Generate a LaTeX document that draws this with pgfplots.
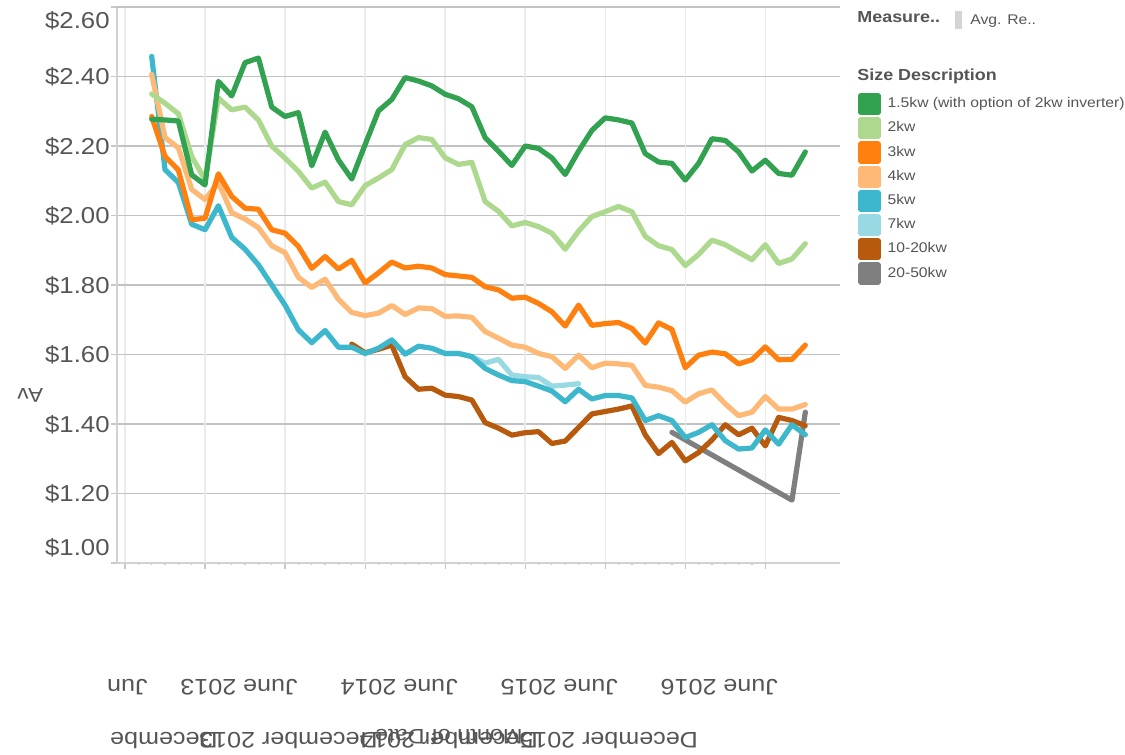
\documentclass[border=0pt]{standalone}
\usepackage{fontspec}
\setmainfont{Liberation Sans}[FakeStretch=1.12]
\usepackage{pgfplots}
\pgfplotsset{compat=1.18}
\definecolor{cA}{HTML}{32A251}
\definecolor{cB}{HTML}{ACD98D}
\definecolor{cC}{HTML}{FF7F0F}
\definecolor{cD}{HTML}{FFB977}
\definecolor{cE}{HTML}{3CB7CC}
\definecolor{cF}{HTML}{98D9E4}
\definecolor{cG}{HTML}{B85A0D}
\definecolor{cH}{HTML}{7F7F7F}
\definecolor{txt}{HTML}{555555}
\newcommand\ylab[2]{\raisebox{#1}[0pt][0pt]{#2}}
\begin{document}
\begin{tikzpicture}
\path[use as bounding box] (0,0) rectangle (562.5pt,-377.5pt);
\begin{axis}[
  at={(58.5pt,-281.5pt)}, anchor=south west,
  scale only axis, width=361.5pt, height=278pt,
  xmin=-0.6, xmax=53.6, ymin=1.0, ymax=2.6,
  axis lines*=left,
  axis line style={color=black!18, line width=0.8pt},
  tick align=outside,
  major tick length=3pt, minor tick length=1.2pt,
  tick style={color=black!22, line width=0.6pt},
  xtick={0,12,24,36,48},
  xticklabels={\hspace*{-5pt}Jun,June 2013,June 2014,June 2015,June 2016},
  minor x tick num=11,
  extra x ticks={6,18,30,42},
  extra x tick labels={Decembe,December 2013,December 2014,December 2015},
  extra x tick style={grid=major, xticklabel style={yshift=26.5pt}},
  xticklabel style={font=\fontsize{11.2pt}{13pt}\selectfont, text=txt, rotate=180, anchor=west, inner sep=0pt, xshift=-6.5pt, yshift=59pt},
  ytick={1.0,1.2,1.4,1.6,1.8,2.0,2.2,2.4},
  yticklabels={\ylab{3.9pt}{\$1.00},\ylab{-4.1pt}{\$1.20},\ylab{-4.1pt}{\$1.40},\ylab{-4.1pt}{\$1.60},\ylab{-4.1pt}{\$1.80},\ylab{-4.1pt}{\$2.00},\ylab{-4.1pt}{\$2.20},\ylab{-4.1pt}{\$2.40}},
  extra y ticks={2.6},
  extra y tick labels={\ylab{-10.6pt}{\$2.60}},
  extra y tick style={major grid style={color=black!8, line width=0.7pt}},
  yticklabel style={font=\fontsize{11.5pt}{13pt}\selectfont, text=txt, anchor=east, inner sep=0pt, xshift=-0.5pt},
  xmajorgrids, ymajorgrids,
  x grid style={color=black!8, line width=0.7pt},
  y grid style={color=black!24, line width=0.8pt},
  xlabel={Month of Date},
  xlabel style={at={(axis description cs:0.459,-0.313)}, rotate=180, anchor=center, font=\fontsize{10.5pt}{12pt}\selectfont, text=txt},
  ylabel={Av},
  ylabel style={at={(axis description cs:-0.120,0.302)}, rotate=90, anchor=center, font=\fontsize{10pt}{12pt}\selectfont, text=txt},
  every axis plot/.append style={line width=2.6pt, line join=round, line cap=round, no markers},
  reverse legend,
  legend cell align=left,
  legend image code/.code={\fill[#1] (0pt,-4.25pt) rectangle (8.5pt,4.25pt);},
  legend style={at={(axis description cs:1.0249,0.846)}, anchor=north west, draw=none, fill=none, inner sep=0pt, row sep=1.0pt, column sep=3.5pt, font=\fontsize{7pt}{8pt}\selectfont, text=txt, nodes={inner sep=0pt}},
]
% 20-50kw
\addplot[color=cH] coordinates {(41,1.376) (50,1.181) (51,1.434)};
\addlegendentry{20-50kw}
% 10-20kw
\addplot[color=cG] coordinates {
(17,1.630) (18,1.605) (19,1.615) (20,1.627) (21,1.536) (22,1.500) (23,1.503) (24,1.483)
(25,1.479) (26,1.469) (27,1.404) (28,1.388) (29,1.368) (30,1.375) (31,1.378) (32,1.344)
(33,1.351) (34,1.390) (35,1.429) (36,1.436) (37,1.443) (38,1.452) (39,1.369) (40,1.315)
(41,1.347) (42,1.294) (43,1.318) (44,1.354) (45,1.398) (46,1.369) (47,1.388) (48,1.337)
(49,1.419) (50,1.410) (51,1.395)};
\addlegendentry{10-20kw}
% 7kw
\addplot[color=cF] coordinates {
(24,1.603) (25,1.603) (26,1.594) (27,1.575) (28,1.586) (29,1.541) (30,1.536) (31,1.534)
(32,1.509) (33,1.512) (34,1.516)};
\addlegendentry{7kw}
% 5kw
\addplot[color=cE] coordinates {
(2,2.458) (3,2.132) (4,2.095) (5,1.975) (6,1.959) (7,2.028) (8,1.937) (9,1.903)
(10,1.858) (11,1.800) (12,1.742) (13,1.671) (14,1.634) (15,1.669) (16,1.621) (17,1.621)
(18,1.603) (19,1.618) (20,1.642) (21,1.601) (22,1.624) (23,1.618) (24,1.603) (25,1.603)
(26,1.594) (27,1.560) (28,1.541) (29,1.525) (30,1.522) (31,1.509) (32,1.495) (33,1.464)
(34,1.500) (35,1.472) (36,1.482) (37,1.482) (38,1.475) (39,1.410) (40,1.424) (41,1.410)
(42,1.361) (43,1.376) (44,1.398) (45,1.352) (46,1.328) (47,1.331) (48,1.383) (49,1.342)
(50,1.398) (51,1.369)};
\addlegendentry{5kw}
% 4kw
\addplot[color=cD] coordinates {
(2,2.406) (3,2.224) (4,2.195) (5,2.075) (6,2.046) (7,2.095) (8,2.008) (9,1.990)
(10,1.965) (11,1.913) (12,1.893) (13,1.822) (14,1.793) (15,1.817) (16,1.759) (17,1.721)
(18,1.712) (19,1.719) (20,1.741) (21,1.715) (22,1.734) (23,1.732) (24,1.710) (25,1.711)
(26,1.707) (27,1.666) (28,1.647) (29,1.627) (30,1.621) (31,1.603) (32,1.594) (33,1.560)
(34,1.598) (35,1.562) (36,1.575) (37,1.573) (38,1.569) (39,1.511) (40,1.506) (41,1.496)
(42,1.463) (43,1.487) (44,1.498) (45,1.458) (46,1.424) (47,1.434) (48,1.479) (49,1.443)
(50,1.443) (51,1.456)};
\addlegendentry{4kw}
% 3kw
\addplot[color=cC] coordinates {
(2,2.285) (3,2.170) (4,2.131) (5,1.988) (6,1.992) (7,2.120) (8,2.055) (9,2.021)
(10,2.018) (11,1.959) (12,1.949) (13,1.911) (14,1.848) (15,1.882) (16,1.846) (17,1.871)
(18,1.806) (19,1.835) (20,1.866) (21,1.849) (22,1.854) (23,1.849) (24,1.830) (25,1.826)
(26,1.822) (27,1.795) (28,1.786) (29,1.762) (30,1.765) (31,1.747) (32,1.723) (33,1.682)
(34,1.742) (35,1.684) (36,1.689) (37,1.692) (38,1.675) (39,1.633) (40,1.691) (41,1.672)
(42,1.562) (43,1.598) (44,1.607) (45,1.602) (46,1.573) (47,1.585) (48,1.622) (49,1.585)
(50,1.586) (51,1.627)};
\addlegendentry{3kw}
% 2kw
\addplot[color=cB] coordinates {
(2,2.350) (3,2.323) (4,2.293) (5,2.170) (6,2.103) (7,2.338) (8,2.304) (9,2.312)
(10,2.275) (11,2.200) (12,2.165) (13,2.127) (14,2.079) (15,2.096) (16,2.040) (17,2.031)
(18,2.086) (19,2.108) (20,2.132) (21,2.204) (22,2.224) (23,2.219) (24,2.166) (25,2.147)
(26,2.153) (27,2.040) (28,2.012) (29,1.970) (30,1.980) (31,1.968) (32,1.949) (33,1.903)
(34,1.955) (35,1.997) (36,2.011) (37,2.026) (38,2.011) (39,1.940) (40,1.913) (41,1.902)
(42,1.856) (43,1.888) (44,1.929) (45,1.916) (46,1.894) (47,1.873) (48,1.916) (49,1.862)
(50,1.875) (51,1.919)};
\addlegendentry{2kw}
% 1.5kw
\addplot[color=cA] coordinates {
(2,2.277) (3,2.275) (4,2.272) (5,2.117) (6,2.088) (7,2.386) (8,2.344) (9,2.440)
(10,2.453) (11,2.312) (12,2.285) (13,2.296) (14,2.143) (15,2.240) (16,2.160) (17,2.105)
(18,2.204) (19,2.301) (20,2.334) (21,2.397) (22,2.387) (23,2.373) (24,2.349) (25,2.336)
(26,2.313) (27,2.224) (28,2.185) (29,2.144) (30,2.200) (31,2.193) (32,2.166) (33,2.118)
(34,2.185) (35,2.245) (36,2.281) (37,2.275) (38,2.266) (39,2.178) (40,2.154) (41,2.150)
(42,2.102) (43,2.150) (44,2.221) (45,2.216) (46,2.183) (47,2.128) (48,2.159) (49,2.121)
(50,2.116) (51,2.183)};
\addlegendentry{1.5kw (with option of 2kw inverter)}
\end{axis}
\node[anchor=west, inner sep=0pt, text=txt, font=\bfseries\fontsize{8pt}{9pt}\selectfont] at (428.5pt,-8.5pt) {Measure..};
\fill[black!17] (477.5pt,-5.5pt) rectangle (481pt,-14.5pt);
\node[anchor=west, inner sep=0pt, text=txt, font=\fontsize{7pt}{8pt}\selectfont] at (485pt,-10.5pt) {Avg. Re..};
\node[anchor=west, inner sep=0pt, text=txt, font=\bfseries\fontsize{8pt}{9pt}\selectfont] at (428.5pt,-38pt) {Size Description};
\end{tikzpicture}
\end{document}
